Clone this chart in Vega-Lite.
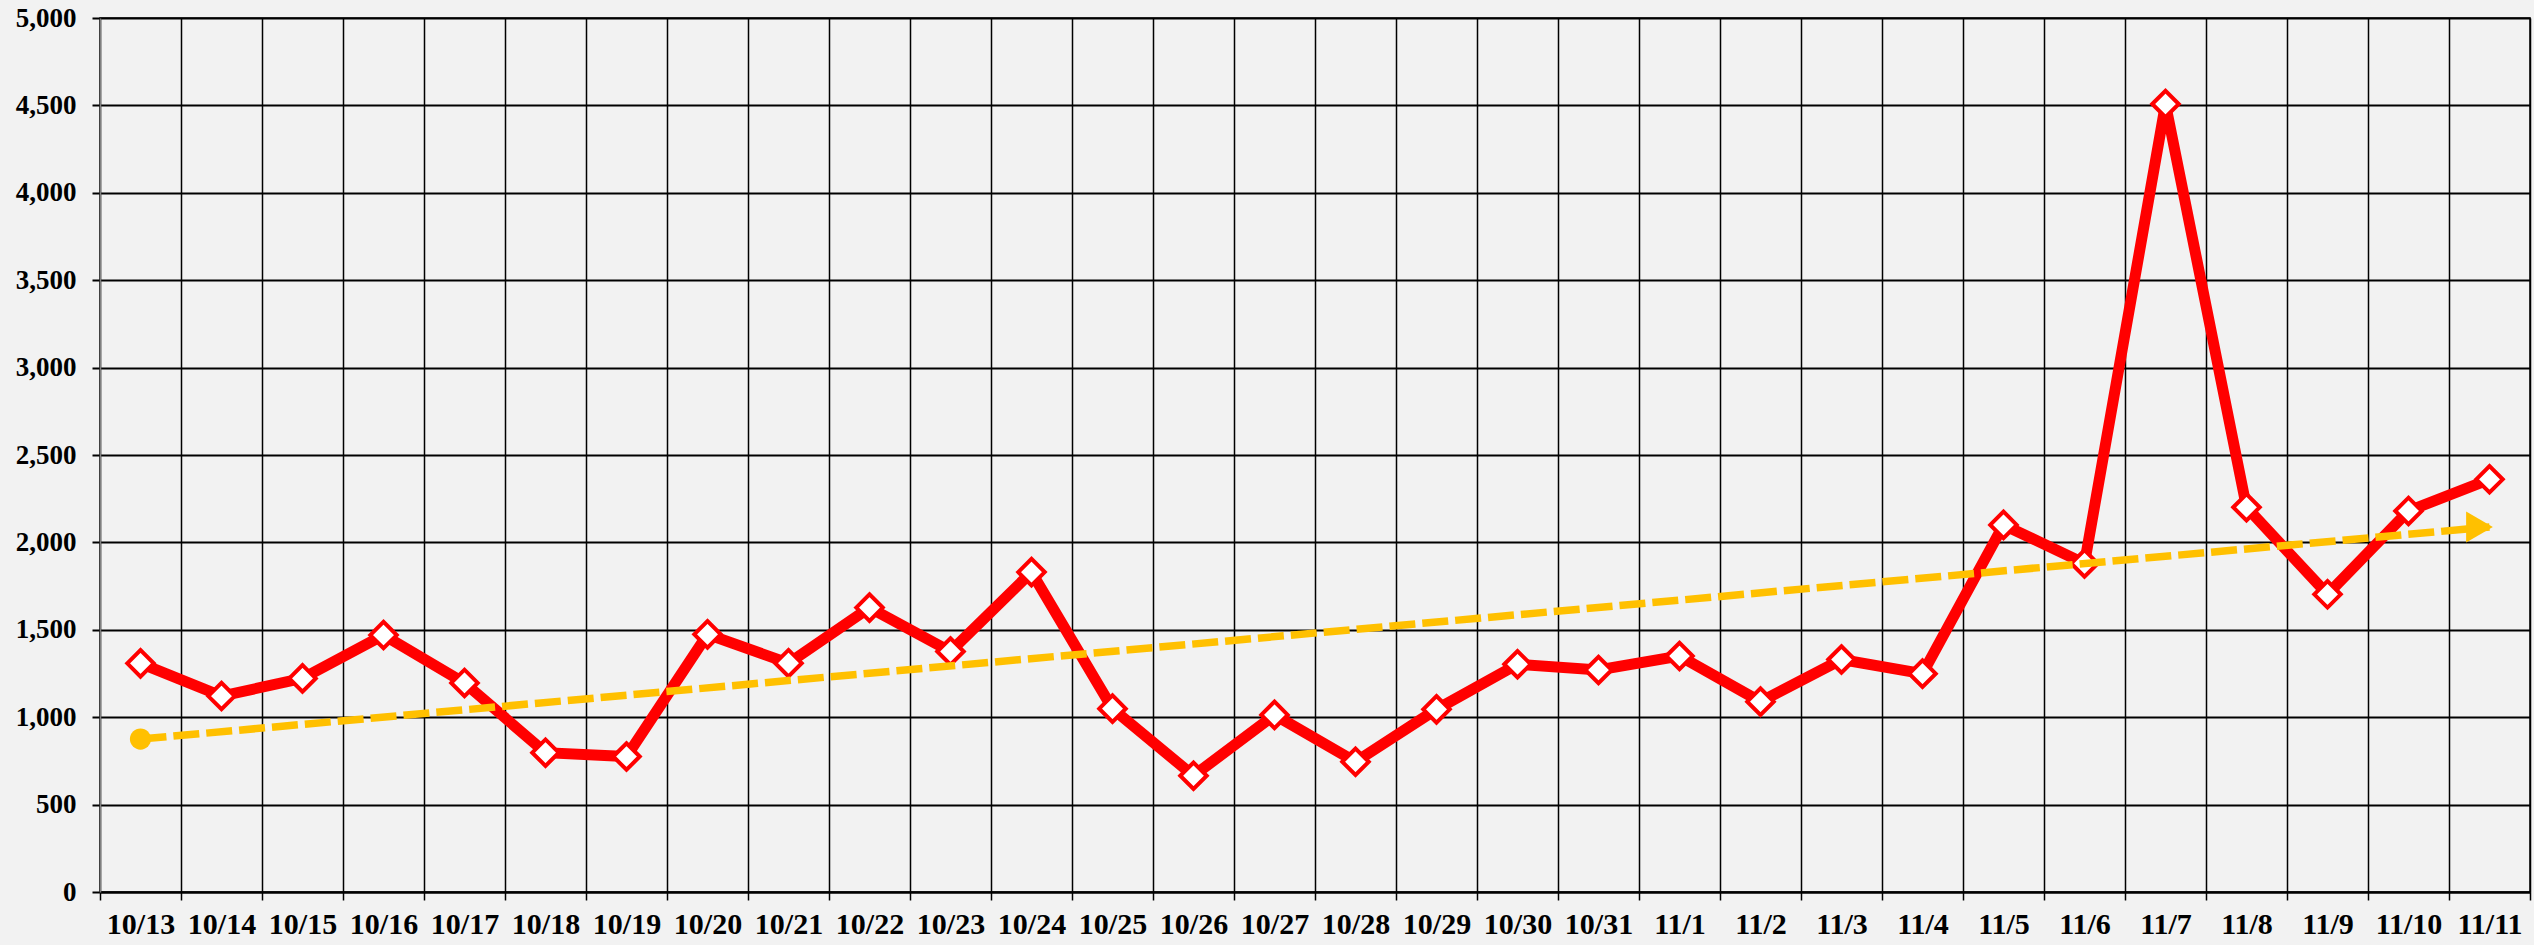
{
  "$schema": "https://vega.github.io/schema/vega-lite/v6.json",
  "width": 2430,
  "height": 874,
  "autosize": {"type": "none"},
  "padding": {"left": 100, "top": 18, "right": 4, "bottom": 53},
  "background": "#f2f2f2",
  "config": {
    "view": {"stroke": "#000000", "strokeWidth": 1.5, "fill": "#f2f2f2"}
  },
  "datasets": {
    "main": [
      {"date": "10/13", "v": 1308},
      {"date": "10/14", "v": 1121},
      {"date": "10/15", "v": 1222},
      {"date": "10/16", "v": 1470},
      {"date": "10/17", "v": 1196},
      {"date": "10/18", "v": 797},
      {"date": "10/19", "v": 775},
      {"date": "10/20", "v": 1474},
      {"date": "10/21", "v": 1309},
      {"date": "10/22", "v": 1627},
      {"date": "10/23", "v": 1376},
      {"date": "10/24", "v": 1830},
      {"date": "10/25", "v": 1049},
      {"date": "10/26", "v": 665},
      {"date": "10/27", "v": 1013},
      {"date": "10/28", "v": 745},
      {"date": "10/29", "v": 1045},
      {"date": "10/30", "v": 1303},
      {"date": "10/31", "v": 1270},
      {"date": "11/1", "v": 1350},
      {"date": "11/2", "v": 1089},
      {"date": "11/3", "v": 1330},
      {"date": "11/4", "v": 1249},
      {"date": "11/5", "v": 2100},
      {"date": "11/6", "v": 1880},
      {"date": "11/7", "v": 4508},
      {"date": "11/8", "v": 2201},
      {"date": "11/9", "v": 1703},
      {"date": "11/10", "v": 2180},
      {"date": "11/11", "v": 2361}
    ],
    "trend": [
      {"date": "10/13", "v": 875, "kind": "start"},
      {"date": "11/11", "v": 2088, "kind": "end"}
    ]
  },
  "encoding": {
    "x": {
      "field": "date",
      "type": "ordinal",
      "scale": {
        "type": "band",
        "paddingInner": 0,
        "paddingOuter": 0,
        "domain": ["10/13","10/14","10/15","10/16","10/17","10/18","10/19","10/20","10/21","10/22","10/23","10/24","10/25","10/26","10/27","10/28","10/29","10/30","10/31","11/1","11/2","11/3","11/4","11/5","11/6","11/7","11/8","11/9","11/10","11/11"]
      },
      "axis": {
        "title": null,
        "labelAngle": 0,
        "labelOverlap": false,
        "tickBand": "extent",
        "grid": true,
        "gridColor": "#000000",
        "gridWidth": 1.5,
        "gridOpacity": 1,
        "domain": true,
        "domainColor": "#000000",
        "domainWidth": 2,
        "ticks": true,
        "tickColor": "#000000",
        "tickWidth": 1.5,
        "tickSize": 8,
        "labelFont": "Liberation Serif",
        "labelFontWeight": "bold",
        "labelFontSize": 30,
        "labelColor": "#000000",
        "labelPadding": 9
      }
    },
    "y": {
      "field": "v",
      "type": "quantitative",
      "scale": {"domain": [0, 5000], "nice": false, "zero": true},
      "axis": {
        "title": null,
        "values": [0, 500, 1000, 1500, 2000, 2500, 3000, 3500, 4000, 4500, 5000],
        "format": ",.0f",
        "grid": true,
        "gridColor": "#000000",
        "gridWidth": 2,
        "gridOpacity": 1,
        "domain": true,
        "domainColor": "#808080",
        "domainWidth": 1.5,
        "ticks": true,
        "tickColor": "#000000",
        "tickWidth": 2,
        "tickSize": 8,
        "labelFont": "Liberation Serif",
        "labelFontWeight": "bold",
        "labelFontSize": 27,
        "labelColor": "#000000",
        "labelPadding": 16
      }
    }
  },
  "layer": [
    {
      "data": {"name": "main"},
      "mark": {"type": "line", "color": "#ff0000", "strokeWidth": 11, "strokeJoin": "miter"}
    },
    {
      "data": {"name": "main"},
      "mark": {"type": "point", "shape": "diamond", "filled": true, "fill": "#ffffff", "stroke": "#ff0000", "strokeWidth": 4, "size": 700, "opacity": 1}
    },
    {
      "data": {"name": "trend"},
      "mark": {"type": "line", "color": "#ffc000", "strokeWidth": 7.5, "strokeDash": [26, 7]}
    },
    {
      "data": {"name": "trend"},
      "transform": [{"filter": "datum.kind == 'start'"}],
      "mark": {"type": "point", "shape": "circle", "filled": true, "color": "#ffc000", "size": 450, "opacity": 1}
    },
    {
      "data": {"name": "trend"},
      "transform": [{"filter": "datum.kind == 'end'"}],
      "mark": {"type": "point", "shape": "triangle-right", "filled": true, "color": "#ffc000", "size": 950, "opacity": 1, "xOffset": -10}
    }
  ]
}
